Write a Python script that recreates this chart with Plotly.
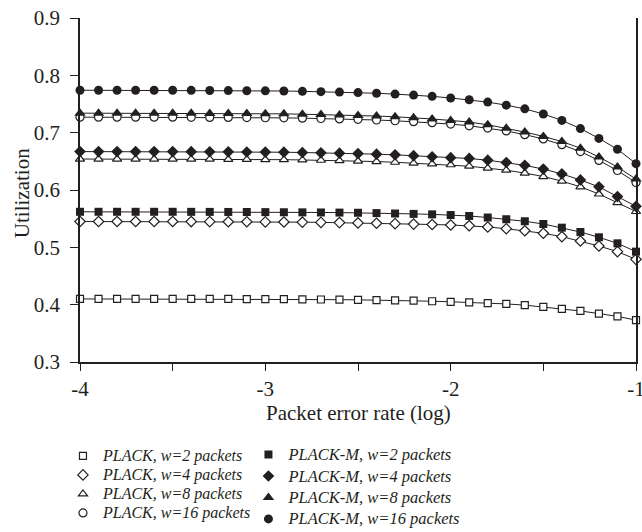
import plotly.graph_objects as go

x_log = [-4.0, -3.9, -3.8, -3.7, -3.6, -3.5, -3.4, -3.3, -3.2, -3.1, -3.0,
         -2.9, -2.8, -2.7, -2.6, -2.5, -2.4, -2.3, -2.2, -2.1, -2.0,
         -1.9, -1.8, -1.7, -1.6, -1.5, -1.4, -1.3, -1.2, -1.1, -1.0]

plack_w2 = [0.410, 0.410, 0.410, 0.410, 0.410, 0.410, 0.410, 0.410, 0.410, 0.4098, 0.4097,
            0.4095, 0.4093, 0.409, 0.4087, 0.4084, 0.408, 0.4075, 0.4069, 0.406, 0.405,
            0.404, 0.4028, 0.4013, 0.3992, 0.3962, 0.3928, 0.389, 0.3845, 0.3795, 0.373]
plack_w4 = [0.545, 0.545, 0.545, 0.545, 0.545, 0.545, 0.5449, 0.5448, 0.5447, 0.5446, 0.5444,
            0.5442, 0.5439, 0.5435, 0.5431, 0.5426, 0.542, 0.5413, 0.5405, 0.5398, 0.539,
            0.5378, 0.5355, 0.5325, 0.529, 0.5245, 0.5186, 0.511, 0.5023, 0.4925, 0.479]
plack_w8 = [0.654, 0.654, 0.654, 0.654, 0.654, 0.654, 0.6538, 0.6537, 0.6535, 0.6533, 0.6531,
            0.6529, 0.6524, 0.6519, 0.6513, 0.6505, 0.6496, 0.6484, 0.6469, 0.6455, 0.644,
            0.6415, 0.638, 0.6345, 0.6295, 0.6235, 0.6155, 0.6055, 0.593, 0.578, 0.5625]
plack_w16 = [0.727, 0.727, 0.727, 0.727, 0.727, 0.727, 0.7268, 0.7266, 0.7265, 0.7263, 0.726,
             0.7258, 0.7253, 0.7247, 0.724, 0.7232, 0.7221, 0.7208, 0.7192, 0.7175, 0.715,
             0.712, 0.708, 0.703, 0.6965, 0.689, 0.679, 0.667, 0.6515, 0.634, 0.613]
plackm_w2 = [0.562, 0.562, 0.562, 0.562, 0.562, 0.562, 0.5619, 0.5618, 0.5617, 0.5616, 0.5614,
             0.5612, 0.561, 0.5608, 0.5606, 0.5603, 0.5597, 0.559, 0.5583, 0.5575, 0.5563,
             0.5547, 0.552, 0.549, 0.5455, 0.5407, 0.5343, 0.5268, 0.5175, 0.507, 0.4925]
plackm_w4 = [0.667, 0.667, 0.667, 0.667, 0.667, 0.667, 0.6668, 0.6667, 0.6665, 0.6663, 0.6661,
             0.6659, 0.6654, 0.6649, 0.6643, 0.6635, 0.6625, 0.6613, 0.6598, 0.658, 0.6563,
             0.655, 0.652, 0.648, 0.643, 0.6365, 0.628, 0.6175, 0.6055, 0.5885, 0.5715]
plackm_w8 = [0.734, 0.734, 0.734, 0.734, 0.734, 0.734, 0.7338, 0.7336, 0.7335, 0.7333, 0.733,
             0.7328, 0.7322, 0.7317, 0.731, 0.7301, 0.729, 0.7277, 0.7261, 0.7239, 0.7213,
             0.7185, 0.7138, 0.7075, 0.701, 0.6935, 0.6845, 0.673, 0.6575, 0.64, 0.619]
plackm_w16 = [0.774, 0.774, 0.774, 0.774, 0.774, 0.774, 0.7738, 0.7736, 0.7734, 0.7732, 0.773,
              0.7727, 0.7721, 0.7715, 0.7708, 0.7699, 0.7687, 0.7673, 0.7656, 0.7633, 0.7605,
              0.7574, 0.7533, 0.748, 0.7415, 0.7326, 0.7214, 0.7071, 0.690, 0.671, 0.646]

labels_plack = ["PLACK, w=2 packets", "PLACK, w=4 packets",
                "PLACK, w=8 packets", "PLACK, w=16 packets"]
labels_plackm = ["PLACK-M, w=2 packets", "PLACK-M, w=4 packets",
                 "PLACK-M, w=8 packets", "PLACK-M, w=16 packets"]
x_ticks = [-4, -3, -2, -1]
x_ticktext = ["-4", "-3", "-2", "-1"]
x_title = "Packet error rate (log)"
y_title = "Utilization"

FONT = "Liberation Serif, Times New Roman, serif"
INK = "#231f20"

fig = go.Figure()

plack_series = [plack_w2, plack_w4, plack_w8, plack_w16]
plackm_series = [plackm_w2, plackm_w4, plackm_w8, plackm_w16]
symbols = ["square", "diamond", "triangle-up", "circle"]
open_sizes = [7, 8, 8, 8]
fill_sizes = [8, 9, 10, 9]

# data curves
for ys, sym, sz in zip(plack_series, symbols, open_sizes):
    fig.add_trace(go.Scatter(
        x=x_log, y=ys, mode="lines+markers", showlegend=False,
        line=dict(color=INK, width=1),
        marker=dict(symbol=sym, size=sz, color="white", line=dict(color=INK, width=1.2)),
        cliponaxis=False, hoverinfo="x+y",
    ))
for ys, sym, sz in zip(plackm_series, symbols, fill_sizes):
    fig.add_trace(go.Scatter(
        x=x_log, y=ys, mode="lines+markers", showlegend=False,
        line=dict(color=INK, width=1),
        marker=dict(symbol=sym, size=sz, color=INK, line=dict(color=INK, width=0)),
        cliponaxis=False, hoverinfo="x+y",
    ))

# legend entries (markers only, as in the reference)
for lab, sym, sz in zip(labels_plack, symbols, open_sizes):
    fig.add_trace(go.Scatter(
        x=[None], y=[None], mode="markers", legend="legend",
        name=f'<span style="font-size:16px"><i>{lab}</i></span>',
        marker=dict(symbol=sym, size=sz, color="white", line=dict(color=INK, width=1.2)),
    ))
for lab, sym, sz in zip(labels_plackm, symbols, fill_sizes):
    fig.add_trace(go.Scatter(
        x=[None], y=[None], mode="markers", legend="legend2",
        name=f'<span style="font-size:16.5px"><i>{lab}</i></span>',
        marker=dict(symbol=sym, size=sz, color=INK, line=dict(color=INK, width=0)),
    ))

fig.update_layout(
    width=642, height=532,
    margin=dict(l=80, r=6, t=18, b=170, autoexpand=False),
    paper_bgcolor="white", plot_bgcolor="white",
    font=dict(family=FONT, color=INK, size=21),
    xaxis=dict(
        range=[-4, -1], tickvals=x_ticks, ticktext=x_ticktext,
        showgrid=False, zeroline=False,
        showline=True, linecolor=INK, linewidth=2,
        ticks="outside", ticklen=7, tickwidth=1.2, tickcolor=INK,
        minor=dict(dtick=0.5, ticks="outside", ticklen=7, tickwidth=1.2, tickcolor=INK),
        tickfont=dict(family=FONT, size=21, color=INK),
        ticklabeloverflow="allow",
    ),
    yaxis=dict(
        range=[0.3, 0.9], dtick=0.1, tickformat=".1f",
        showgrid=False, zeroline=False,
        showline=True, linecolor=INK, linewidth=1.5, mirror=True,
        ticks="outside", ticklen=8, tickwidth=1.2, tickcolor=INK,
        ticklabelstandoff=6,
        tickfont=dict(family=FONT, size=21, color=INK),
    ),
    annotations=[
        dict(text=x_title, xref="paper", yref="paper", x=0.5, y=-0.148,
             xanchor="center", yanchor="middle", showarrow=False,
             font=dict(family=FONT, size=21, color=INK)),
        dict(text=y_title, xref="paper", yref="paper", x=-0.103, y=0.49,
             xanchor="center", yanchor="middle", showarrow=False, textangle=-90,
             font=dict(family=FONT, size=21, color=INK)),
    ],
    legend=dict(
        xref="container", yref="container",
        x=0.0981, y=0.1703, xanchor="left", yanchor="top",
        orientation="v", font=dict(family=FONT, size=12.3, color=INK),
        bgcolor="rgba(0,0,0,0)", borderwidth=0, itemclick=False, itemdoubleclick=False,
    ),
    legend2=dict(
        xref="container", yref="container",
        x=0.3870, y=0.1752, xanchor="left", yanchor="top",
        orientation="v", font=dict(family=FONT, size=14.2, color=INK),
        bgcolor="rgba(0,0,0,0)", borderwidth=0, itemclick=False, itemdoubleclick=False,
    ),
    showlegend=True,
)

fig.write_html("out.html", config={"displayModeBar": False},
               post_script="document.body.style.margin='0px';")
